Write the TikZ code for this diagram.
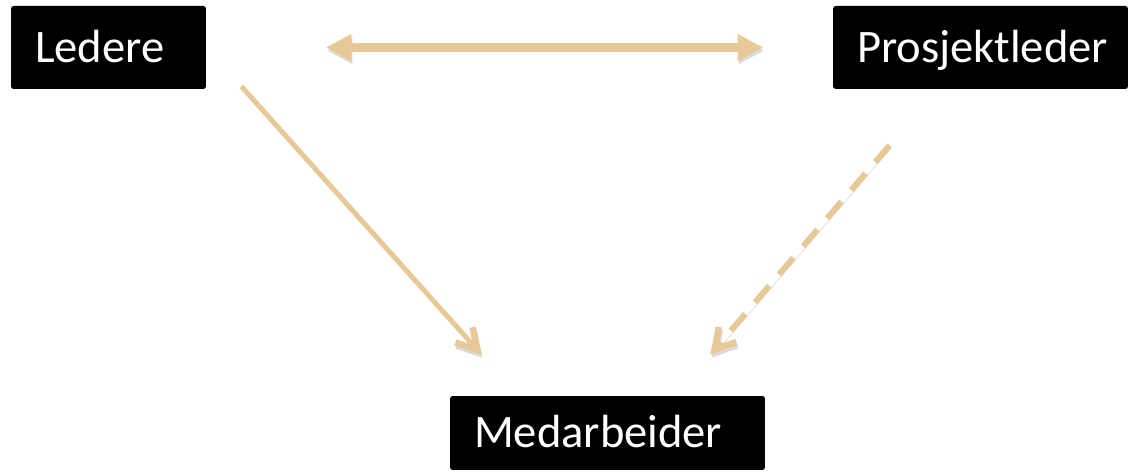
\documentclass[tikz,border=0pt]{standalone}
\usepackage{fontspec}
\setmainfont{Carlito}
\usetikzlibrary{arrows.meta}
\definecolor{beige}{RGB}{231,201,151}
\newcommand{\rolebox}[2]{\makebox[#1][l]{#2}}
\begin{document}
\begin{tikzpicture}[x=0.02cm,y=0.02cm]
\tikzstyle{role}=[fill=black, text=white, rounded corners=1.5pt, inner xsep=0.48cm, inner ysep=0pt, text height=0.6cm, text depth=0pt, font=\fontsize{26.5}{30}\selectfont]
\tikzstyle{shade}=[preaction={draw=black!14, transform canvas={xshift=0.6pt,yshift=-1.8pt}}]
\tikzstyle{link}=[draw=beige, shade, -{Straight Barb[length=0.4cm,width=0.46cm,line width=0.13cm]}]
\useasboundingbox (0,0) rectangle (1144,476);

\node [role, minimum height=1.66cm] (ledere) at (108.5,428.5) {\rolebox{2.94cm}{Ledere}};
\node [role, minimum height=1.66cm] (prosjekt) at (980.5,428.5) {\rolebox{4.94cm}{Prosjektleder}};
\node [role, minimum height=1.48cm] (medarb) at (607.5,43) {\rolebox{5.34cm}{Medarbeider}};

\draw [draw=beige, shade, line width=0.19cm, shorten <=2.4cm, shorten >=1.4cm,
  {Triangle[length=0.5cm,width=0.54cm,line width=0pt]}-{Triangle[length=0.5cm,width=0.54cm,line width=0pt]}]
  (ledere.east) -- (prosjekt.west);
\draw [link, line width=0.1cm] ([shift={(35,3)}]ledere.south east) -- ([shift={(32,41)}]medarb.north west);
\draw [link, line width=0.12cm, dash pattern=on 0.44cm off 0.3cm] ([shift={(57,-56)}]prosjekt.south west) -- ([shift={(-55,41)}]medarb.north east);
\end{tikzpicture}
\end{document}
